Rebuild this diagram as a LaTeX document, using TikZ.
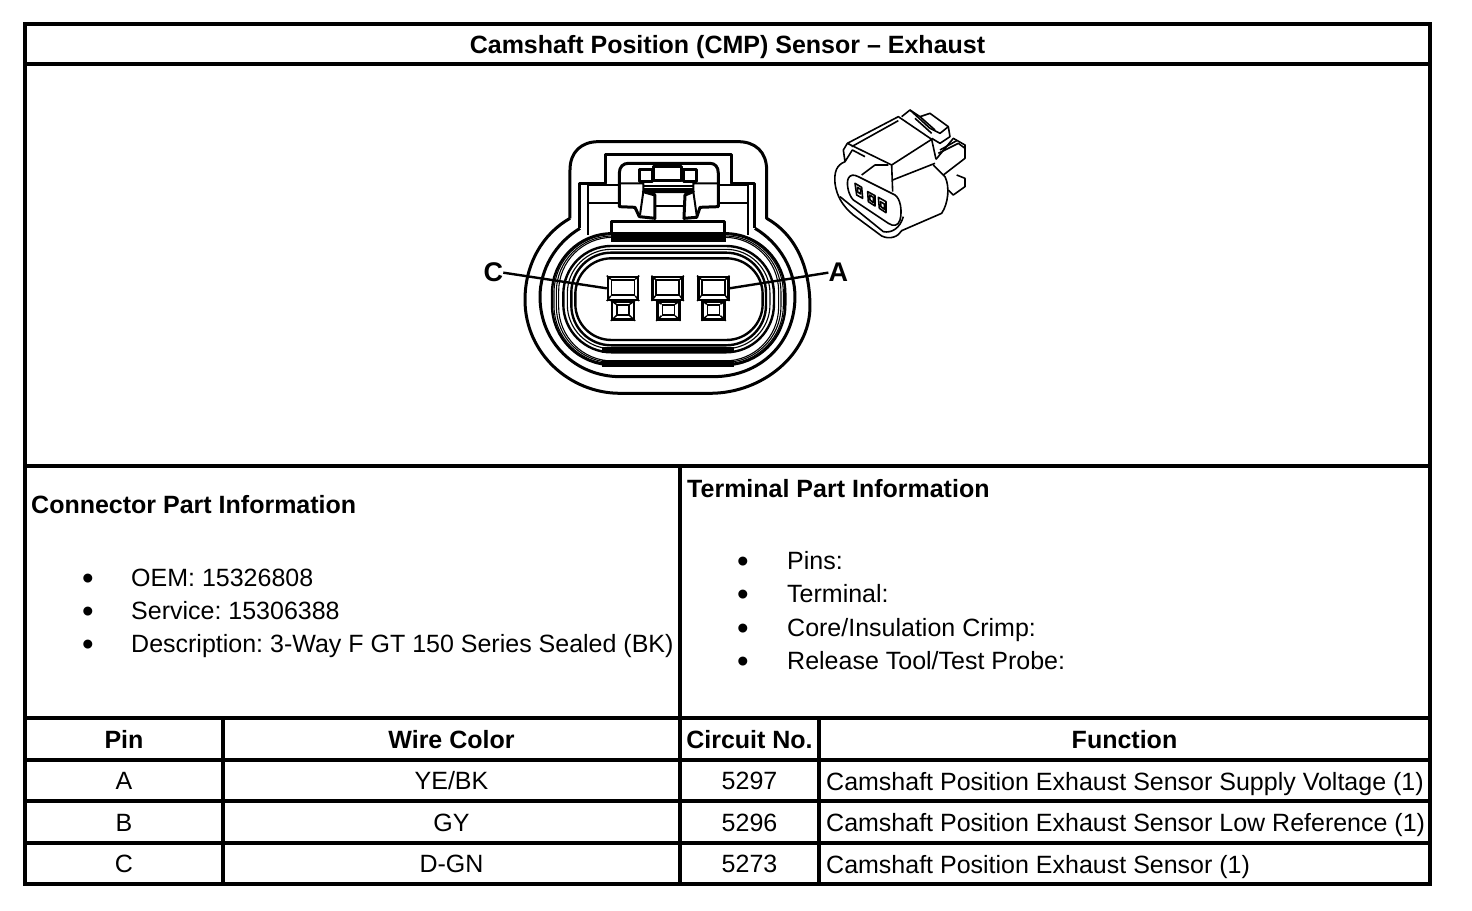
\documentclass[tikz,border=0pt]{standalone}
\usepackage{fontspec}
\setmainfont{Liberation Sans}
\usetikzlibrary{positioning}
\AtBeginDocument{\frenchspacing}
\tikzset{
  cellbox/.style={draw,line width=4pt,inner sep=0pt,text height=18pt,text depth=0pt,font=\fontsize{25}{28}\selectfont},
  headbox/.style={cellbox,font=\fontsize{25}{28}\selectfont\bfseries},
  infotext/.style={inner sep=0pt,anchor=west,text height=18pt,text depth=0pt,font=\fontsize{25}{28}\selectfont},
  infohead/.style={infotext,font=\fontsize{25}{28}\selectfont\bfseries},
  infobullet/.style={infotext,yshift=-3pt,font=\fontsize{33}{36}\selectfont},
  pinbig/.style={draw,line width=2.4pt,minimum width=30pt,minimum height=23pt,inner sep=0pt},
  pinsmall/.style={draw,line width=2.4pt,minimum width=22pt,minimum height=18pt,inner sep=0pt},
  pinhole/.style={draw,line width=1.5pt,inner sep=0pt},
  pinlabel/.style={inner sep=0pt,font=\fontsize{27}{30}\selectfont\bfseries},
  leader/.style={line width=2.4pt},
  shell/.style={line width=3pt,line join=round},
  sealthin/.style={line width=1.1pt},
  sealthick/.style={line width=2.4pt},
  latchline/.style={line width=2pt,line join=round},
  sketch/.style={line width=1.6pt,line join=round}
}
\begin{document}
\begin{tikzpicture}[x=1pt,y=-1pt]
\useasboundingbox (0,0) rectangle (1472,910);

\node[headbox,minimum width=1405pt,minimum height=40pt] at (727.5,44) (title){Camshaft Position (CMP) Sensor -- Exhaust};
\node[cellbox,minimum width=1405pt,minimum height=402pt] at (727.5,265) (picturecell){};
\node[cellbox,minimum width=655pt,minimum height=252pt] at (352.5,592) (connectorcell){};
\node[cellbox,minimum width=750pt,minimum height=252pt] at (1055,592) (terminalcell){};

\node[infohead] at (31,504) (connectorhead){Connector Part Information};
\node[infobullet] at (82,577) (bulletoem){•};
\node[infotext] at (131,577) (oem){OEM: 15326808};
\node[infobullet] at (82,610) (bulletservice){•};
\node[infotext] at (131,610) (service){Service: 15306388};
\node[infobullet] at (82,643) (bulletdesc){•};
\node[infotext] at (131,643) (desc){Description: 3-Way F GT 150 Series Sealed (BK)};

\node[infohead] at (687,488) (terminalhead){Terminal Part Information};
\node[infobullet] at (737,560) (bulletpins){•};
\node[infotext] at (787,560) (pins){Pins:};
\node[infobullet] at (737,593) (bulletterminal){•};
\node[infotext] at (787,593) (terminal){Terminal:};
\node[infobullet] at (737,627) (bulletcrimp){•};
\node[infotext] at (787,627) (crimp){Core/Insulation Crimp:};
\node[infobullet] at (737,660) (bullettool){•};
\node[infotext] at (787,660) (tool){Release Tool/Test Probe:};

\node[headbox,minimum width=198pt,minimum height=42pt] at (124,739) (headpin){Pin};
\node[headbox,minimum width=457pt,minimum height=42pt] at (451.5,739) (headwire){Wire Color};
\node[headbox,minimum width=139pt,minimum height=42pt] at (749.5,739) (headcircuit){Circuit No.};
\node[headbox,minimum width=611pt,minimum height=42pt] at (1124.5,739) (headfunction){Function};

\node[cellbox,minimum width=198pt,minimum height=41pt] at (124,780.5) (pinA){A};
\node[cellbox,minimum width=457pt,minimum height=41pt] at (451.5,780.5) (wireA){YE/BK};
\node[cellbox,minimum width=139pt,minimum height=41pt] at (749.5,780.5) (circuitA){5297};
\node[cellbox,minimum width=611pt,minimum height=41pt] at (1124.5,780.5) (functionA){};
\node[infotext] at (826,781) (textA){Camshaft Position Exhaust Sensor Supply Voltage (1)};

\node[cellbox,minimum width=198pt,minimum height=42pt] at (124,822) (pinB){B};
\node[cellbox,minimum width=457pt,minimum height=42pt] at (451.5,822) (wireB){GY};
\node[cellbox,minimum width=139pt,minimum height=42pt] at (749.5,822) (circuitB){5296};
\node[cellbox,minimum width=611pt,minimum height=42pt] at (1124.5,822) (functionB){};
\node[infotext] at (826,822) (textB){Camshaft Position Exhaust Sensor Low Reference (1)};

\node[cellbox,minimum width=198pt,minimum height=41pt] at (124,863.5) (pinC){C};
\node[cellbox,minimum width=457pt,minimum height=41pt] at (451.5,863.5) (wireC){D-GN};
\node[cellbox,minimum width=139pt,minimum height=41pt] at (749.5,863.5) (circuitC){5273};
\node[cellbox,minimum width=611pt,minimum height=41pt] at (1124.5,863.5) (functionC){};
\node[infotext] at (826,864) (textC){Camshaft Position Exhaust Sensor (1)};

% front view
\begin{scope}[shift={(480,120)},x=0.3333pt,y=-0.3333pt]
\draw[shell] (270,295) -- (270,150) .. controls (270,95) and (305,65) .. (355,65) -- (775,65) .. controls (825,65) and (860,95) .. (860,150) -- (860,295) .. controls (940,340) and (990,430) .. (990,560) .. controls (990,700) and (850,820) .. (690,820) -- (420,820) .. controls (270,820) and (135,700) .. (135,540) .. controls (135,430) and (190,340) .. (270,295);
\draw[shell] (300,325) .. controls (225,370) and (180,450) .. (180,530) .. controls (180,670) and (290,770) .. (420,770) -- (700,770) .. controls (840,770) and (945,670) .. (945,530) .. controls (945,450) and (900,370) .. (825,325);

\draw[sealthick,rounded corners=60pt] (216,340) rectangle (916,735);
\draw[sealthin,rounded corners=58pt] (222,344) rectangle (910,731);
\draw[sealthin,rounded corners=56pt] (229,348) rectangle (903,727);
\draw[sealthin,rounded corners=54pt] (236,352) rectangle (896,723);
\draw[sealthick,rounded corners=48pt] (250,378) rectangle (882,697);
\draw[sealthin,rounded corners=44pt] (262,388) rectangle (870,686);
\draw[sealthick,rounded corners=40pt] (274,398) rectangle (858,676);
\draw[sealthick,rounded corners=36pt] (286,415) rectangle (848,660);
\draw[fill=black,line width=2pt] (395,335) rectangle (735,362);
\draw[fill=black,line width=2pt] (370,684) rectangle (760,697);
\draw[fill=black,line width=2pt] (370,722) rectangle (760,737);

% hood and latch
\draw[shell,fill=white] (300,325) -- (300,190) -- (378,190) -- (378,103) -- (755,103) -- (755,190) -- (825,190) -- (825,325);
\draw[latchline] (325,345) -- (325,195) -- (805,195) -- (805,345);
\draw[latchline] (325,250) -- (420,250);
\draw[latchline] (710,250) -- (805,250);
\draw[shell,fill=white] (395,335) -- (395,305) -- (735,305) -- (735,335);
\draw[shell,fill=white] (418,190) -- (418,160) .. controls (418,140) and (430,130) .. (445,130) -- (690,130) .. controls (705,130) and (715,140) .. (715,160) -- (715,260) -- (660,262) -- (650,292) -- (612,295) -- (615,225) -- (640,215) -- (490,215) -- (525,225) -- (525,295) -- (478,290) -- (465,262) -- (418,260) -- cycle;
\draw[latchline] (418,190) -- (490,190) -- (490,215) -- (480,285);
\draw[latchline] (715,190) -- (640,190) -- (640,215) -- (650,285);
\draw[latchline] (490,197) -- (640,197);
\draw[latchline] (490,208) -- (640,208);
\draw[latchline] (525,258) -- (612,258);
\draw[shell] (520,140) rectangle (605,183);
\draw[shell] (478,150) rectangle (517,185);
\draw[shell] (612,150) rectangle (650,185);

% pins
\node[pinbig] at (429,505) (frontC){};
\node[pinhole,minimum width=23pt,minimum height=15pt] at (429,503) (holeC){};
\node[pinbig] at (563,505) (frontB){};
\node[pinhole,minimum width=23pt,minimum height=15pt] at (563,503) (holeB){};
\node[pinbig] at (700,505) (frontA){};
\node[pinhole,minimum width=23pt,minimum height=15pt] at (700,503) (holeA){};
\node[pinsmall] at (429,572) (lowerC){};
\node[pinhole,minimum width=12pt,minimum height=10pt] at (429,570) (lowerholeC){};
\node[pinsmall] at (565,572) (lowerB){};
\node[pinhole,minimum width=12pt,minimum height=10pt] at (565,570) (lowerholeB){};
\node[pinsmall] at (701,572) (lowerA){};
\node[pinhole,minimum width=12pt,minimum height=10pt] at (701,570) (lowerholeA){};
\foreach \corner in {north west,north east,south west,south east}{
  \draw[pinhole] (frontC.\corner) -- (holeC.\corner);
  \draw[pinhole] (frontB.\corner) -- (holeB.\corner);
  \draw[pinhole] (frontA.\corner) -- (holeA.\corner);
  \draw[pinhole] (lowerC.\corner) -- (lowerholeC.\corner);
  \draw[pinhole] (lowerB.\corner) -- (lowerholeB.\corner);
  \draw[pinhole] (lowerA.\corner) -- (lowerholeA.\corner);
}

\node[pinlabel] at (40,458) (labelC){C};
\node[pinlabel] at (1075,458) (labelA){A};
\draw[leader] (labelC.east) -- (frontC.west);
\draw[leader] (labelA.west) -- (frontA.east);
\end{scope}

% small view
\begin{scope}[shift={(820,100)},x=0.3333pt,y=-0.3333pt]
\draw[sketch] (75,185) .. controls (50,195) and (42,215) .. (45,250) .. controls (50,290) and (70,320) .. (100,345) -- (185,408) .. controls (210,420) and (235,410) .. (245,392) -- (365,340) .. controls (385,310) and (390,260) .. (375,230) -- (340,195);
\draw[sketch] (82,130) -- (235,50) -- (335,118) -- (215,195) -- (82,130);
\draw[sketch] (82,130) -- (70,150) -- (75,185) -- (97,150) -- (135,170);
\draw[sketch] (95,140) -- (235,62);
\draw[sketch] (215,195) -- (218,275);
\draw[sketch] (218,240) -- (345,190);
\draw[sketch] (335,118) -- (348,178);
\draw[sketch] (85,235) .. controls (90,225) and (100,222) .. (115,230) -- (225,285) .. controls (240,295) and (248,330) .. (240,360) .. controls (235,378) and (220,380) .. (205,370) -- (100,300) .. controls (85,285) and (78,250) .. (85,235);
\draw[sketch] (125,225) -- (165,195) -- (205,195);
\draw[sketch] (60,290) -- (190,395) .. controls (215,400) and (240,385) .. (250,350);
\draw[sketch] (245,50) -- (270,30) -- (300,50) -- (330,40) -- (385,80) -- (390,110) -- (360,130) -- (335,115);
\draw[sketch] (270,30) -- (330,85) -- (360,100) -- (385,80);
\draw[sketch] (300,50) -- (345,90);
\draw[sketch] (285,55) -- (335,100);
\draw[sketch] (348,178) -- (400,115) -- (435,135) -- (435,175) -- (370,225);
\draw[sketch] (355,160) -- (415,130) -- (435,145);
\draw[sketch] (360,150) -- (410,122);
\draw[sketch] (410,225) -- (435,235) -- (435,260) -- (400,285) -- (385,270);
\draw[sketch,fill=white] (105,250) -- (125,262) -- (128,295) -- (110,285) -- cycle;
\draw[sketch,fill=white] (143,275) -- (165,287) -- (165,318) -- (145,305) -- cycle;
\draw[sketch,fill=white] (175,292) -- (198,305) -- (198,338) -- (178,325) -- cycle;
\draw[sketch] (112,262) -- (122,268) -- (122,282) -- (113,276) -- cycle;
\draw[sketch] (149,285) -- (160,292) -- (160,308) -- (150,300) -- cycle;
\draw[sketch] (181,305) -- (193,312) -- (193,328) -- (183,320) -- cycle;
\end{scope}

\end{tikzpicture}
\end{document}
